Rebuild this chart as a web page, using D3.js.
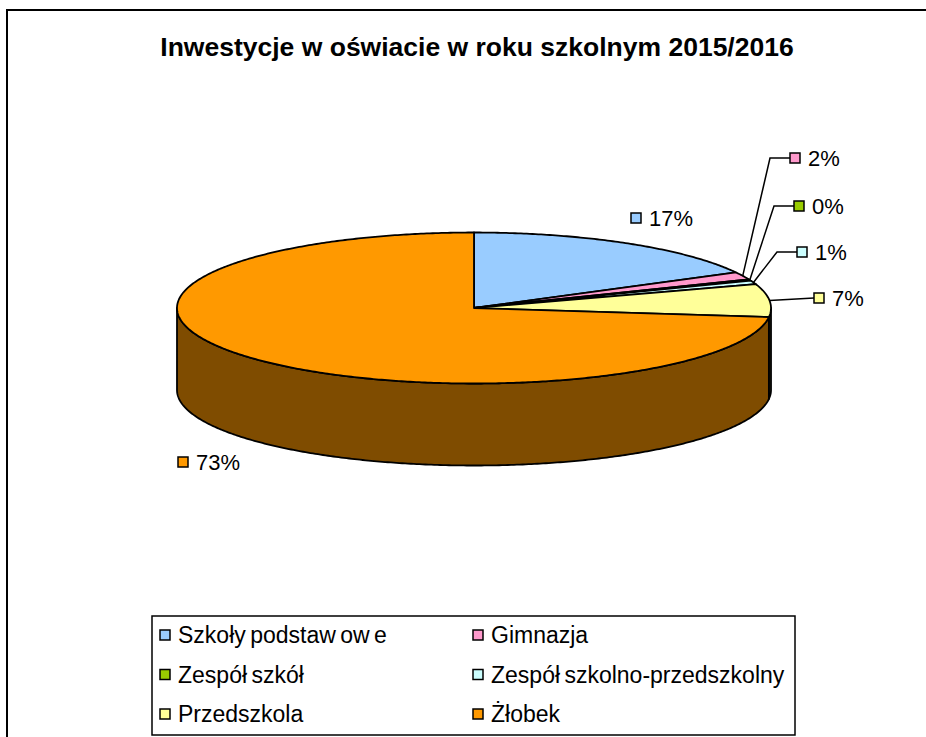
<!DOCTYPE html>
<html lang="pl">
<head>
<meta charset="UTF-8" />
<title>Inwestycje w oświacie w roku szkolnym 2015/2016</title>
<script src="https://d3js.org/d3.v7.min.js"></script>
<style>
  body { margin: 0; background: #fff; font-family: "Liberation Sans", Arial, sans-serif; }
  svg { display: block; }
  .pct { font-size: 22px; fill: #000; }
  .leg { font-size: 23px; fill: #000; word-spacing: -2px; }
</style>
</head>
<body>
<div id="chart"></div>
<script>
// data
const categories = ['Szkoły podstaw ow e', 'Gimnazja', 'Zespół szkół',
  'Zespół szkolno-przedszkolny', 'Przedszkola', 'Żłobek'];
const shares = [17.2, 1.6, 0.3, 0.8, 7.0, 73.1];
const topColors = ['#99CCFF', '#FF99CC', '#99CC00', '#CCFFFF', '#FFFF99', '#FF9900'];
const sideColors = ['#4C667F', '#7F4C66', '#4C6600', '#667F7F', '#7F7F4C', '#7F4C00'];

// where Excel put the labels (centre of the small square marker)
const labelAt = [
  { x: 636, y: 218, leader: false },
  { x: 795, y: 158, leader: true },
  { x: 799, y: 206, leader: true },
  { x: 802, y: 252, leader: true },
  { x: 819, y: 298, leader: true },
  { x: 183, y: 462, leader: false }
];

const width = 926, height = 737;
const cx = 474, cy = 308, rx = 297, ry = 75.5, depth = 82;

const svg = d3.select('#chart').append('svg')
  .attr('width', width).attr('height', height);

// outer frame
svg.append('rect')
  .attr('x', 7).attr('y', 10).attr('width', width + 20).attr('height', height + 20)
  .attr('fill', 'none').attr('stroke', '#000').attr('stroke-width', 2);

svg.append('text')
  .attr('x', 477).attr('y', 56)
  .attr('text-anchor', 'middle')
  .style('font-size', '26.5px').style('font-weight', 'bold')
  .text('Inwestycje w oświacie w roku szkolnym 2015/2016');

const pie = d3.pie().sort(null).value(d => d.value);
const arcs = pie(categories.map((c, i) => ({ name: c, value: shares[i], i })));

const ex = a => cx + rx * Math.sin(a);
const ey = a => cy - ry * Math.cos(a);
const line = d3.line();

function sample(a0, a1) {
  const n = Math.max(2, Math.ceil(Math.abs(a1 - a0) / 0.01));
  return d3.range(n + 1).map(k => a0 + (a1 - a0) * k / n);
}

// side walls (front half only)
const sides = svg.append('g');
arcs.forEach(d => {
  const s = Math.max(d.startAngle, Math.PI / 2);
  const e = Math.min(d.endAngle, Math.PI * 3 / 2);
  if (e <= s) return;
  const top = sample(s, e).map(a => [ex(a), ey(a)]);
  const bot = sample(e, s).map(a => [ex(a), ey(a) + depth]);
  sides.append('path')
    .attr('d', line(top.concat(bot)) + 'Z')
    .attr('fill', sideColors[d.data.i])
    .attr('stroke', '#000').attr('stroke-width', 1.8)
    .attr('stroke-linejoin', 'round');
});

// top faces
const tops = svg.append('g');
arcs.forEach(d => {
  const pts = [[cx, cy]].concat(sample(d.startAngle, d.endAngle).map(a => [ex(a), ey(a)]));
  tops.append('path')
    .attr('d', line(pts) + 'Z')
    .attr('fill', topColors[d.data.i])
    .attr('stroke', '#000').attr('stroke-width', 1.8)
    .attr('stroke-linejoin', 'round');
});

// data labels
const labels = svg.append('g');
arcs.forEach(d => {
  const L = labelAt[d.data.i];
  const mid = (d.startAngle + d.endAngle) / 2;
  if (L.leader) {
    const px = ex(mid), py = ey(mid);
    const elbow = L.x - 5 - 20;
    const pts = Math.abs(py - L.y) < 6
      ? [[px, py], [L.x - 5, L.y]]
      : [[px, py], [elbow, L.y], [L.x - 5, L.y]];
    labels.append('path')
      .attr('d', line(pts))
      .attr('fill', 'none').attr('stroke', '#000').attr('stroke-width', 1.5);
  }
  labels.append('rect')
    .attr('x', L.x - 5).attr('y', L.y - 5).attr('width', 10).attr('height', 10)
    .attr('fill', topColors[d.data.i]).attr('stroke', '#000').attr('stroke-width', 1.5);
  labels.append('text')
    .attr('class', 'pct')
    .attr('x', L.x + 13).attr('y', L.y).attr('dy', '0.36em')
    .text(Math.round(d.data.value) + '%');
});

// legend
const legend = svg.append('g');
legend.append('rect')
  .attr('x', 152).attr('y', 616).attr('width', 643).attr('height', 119)
  .attr('fill', '#fff').attr('stroke', '#000').attr('stroke-width', 1.5);

const colX = d3.scaleOrdinal().domain([0, 1]).range([165, 478]);
const rowY = d3.scalePoint().domain([0, 1, 2]).range([635, 714]);

categories.forEach((c, i) => {
  const x = colX(i % 2), y = rowY(Math.floor(i / 2));
  legend.append('rect')
    .attr('x', x - 5).attr('y', y - 5).attr('width', 10).attr('height', 10)
    .attr('fill', topColors[i]).attr('stroke', '#000').attr('stroke-width', 1.5);
  legend.append('text')
    .attr('class', 'leg')
    .attr('x', x + 13).attr('y', y).attr('dy', '0.36em')
    .text(c);
});
</script>
</body>
</html>
